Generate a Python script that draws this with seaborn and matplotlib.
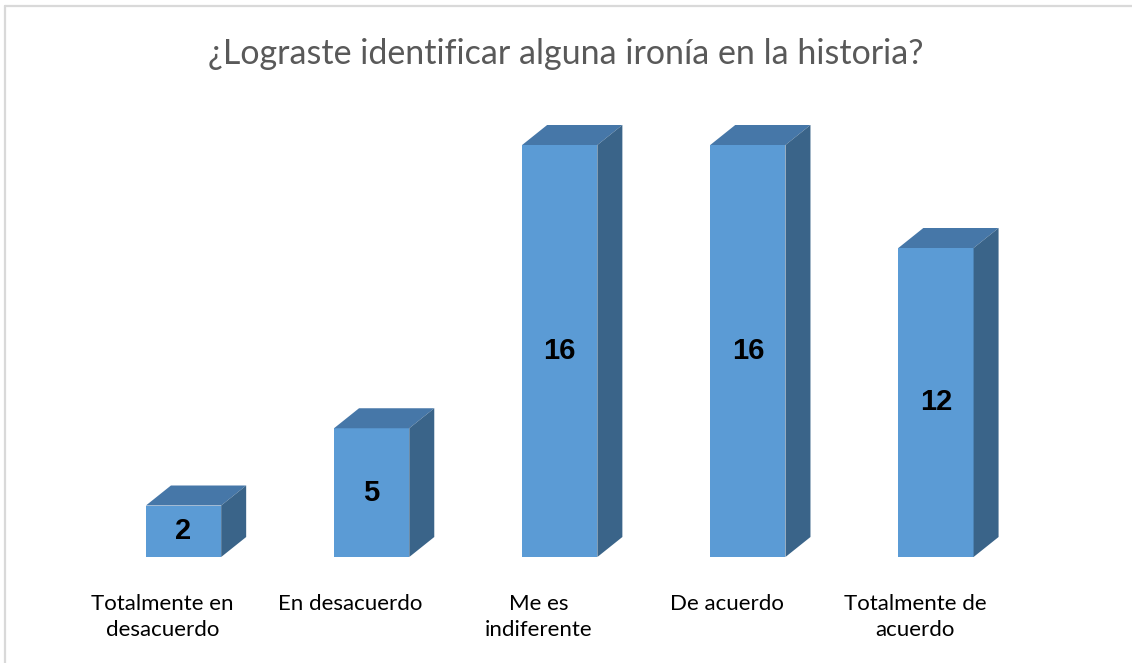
import matplotlib
matplotlib.use("Agg")
import matplotlib.pyplot as plt
import seaborn as sns
import pandas as pd
from matplotlib.patches import Polygon
from matplotlib.lines import Line2D
from matplotlib.transforms import IdentityTransform, ScaledTranslation

categories = ["Totalmente en\ndesacuerdo", "En desacuerdo", "Me es\nindiferente",
              "De acuerdo", "Totalmente de\nacuerdo"]
values = [2, 5, 16, 16, 12]
title = "¿Lograste identificar alguna ironía en la historia?"

FRONT = "#5B9BD5"
TOP = "#4677A8"
SIDE = "#3A6489"

sns.set_theme(style="white")
plt.rcParams['font.family'] = ['Lato', 'DejaVu Sans']

W, H, DPI = 1132, 663, 100
fig = plt.figure(figsize=(W / DPI, H / DPI), dpi=DPI)
ax = fig.add_axes([89.5 / W, (H - 557) / H, 940.5 / W, 437.75 / H])

df = pd.DataFrame({"cat": categories, "val": values})
sns.barplot(data=df, x="cat", y="val", color=FRONT, saturation=1, width=0.4,
            ax=ax, edgecolor="none")
ax.set_xlim(-0.5, 4.5)
ax.set_ylim(0, 17)
sns.despine(ax=ax, left=True, bottom=True)
ax.set_yticks([])
ax.set_xlabel("")
ax.set_ylabel("")
ax.tick_params(axis="x", length=0, pad=27, labelsize=16, labelcolor="#000000")
shift = ScaledTranslation(-21 / DPI, 0, fig.dpi_scale_trans)
for t in ax.get_xticklabels():
    t.set_linespacing(1.35)
    t.set_transform(t.get_transform() + shift)

fig.canvas.draw()
dx, dy = 25, 20
for p, v in zip(ax.patches, values):
    x0, y0 = p.get_x(), p.get_y()
    x1, y1 = x0 + p.get_width(), y0 + p.get_height()
    (X0, Y0), (X1, Y1) = ax.transData.transform([(x0, y0), (x1, y1)])
    top = Polygon([(X0, Y1), (X1, Y1), (X1 + dx, Y1 + dy), (X0 + dx, Y1 + dy)],
                  closed=True, facecolor=TOP, edgecolor="none",
                  transform=IdentityTransform())
    side = Polygon([(X1, Y0), (X1 + dx, Y0 + dy), (X1 + dx, Y1 + dy), (X1, Y1)],
                   closed=True, facecolor=SIDE, edgecolor="none",
                   transform=IdentityTransform())
    fig.add_artist(top)
    fig.add_artist(side)
    ax.text((x0 + x1) / 2, (y0 + y1) / 2, str(v), ha="center", va="center",
            fontsize=21, fontweight="bold", color="#000000",
            family=["Liberation Sans", "DejaVu Sans"])

fig.text(0.5, (H - 54) / H, title, ha="center", va="center", fontsize=24.5,
         color="#595959")

fig.add_artist(Line2D([5 / W, 5 / W], [0, (H - 6) / H], color="#D9D9D9", lw=1.6))
fig.add_artist(Line2D([5 / W, 1], [(H - 6) / H, (H - 6) / H], color="#D9D9D9", lw=1.6))

fig.savefig("out.png", dpi=DPI, facecolor="white")
